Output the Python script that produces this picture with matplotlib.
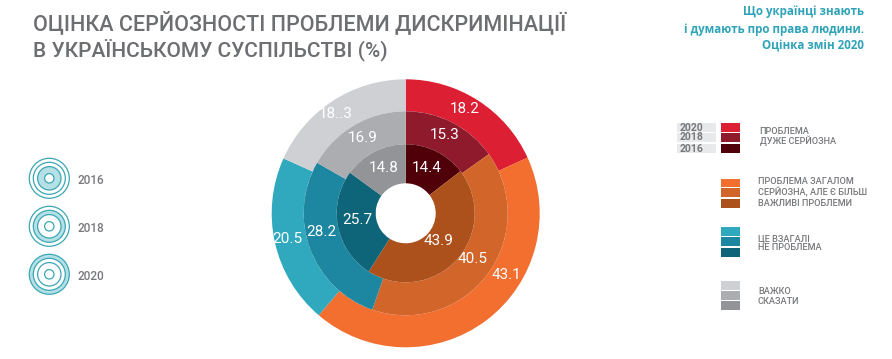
import matplotlib
matplotlib.use("Agg"); import matplotlib.pyplot as plt
from matplotlib.patches import Circle, Rectangle

W,H=892,359
categories=["ПРОБЛЕМА\nДУЖЕ СЕРЙОЗНА","ПРОБЛЕМА ЗАГАЛОМ\nСЕРЙОЗНА, АЛЕ Є БІЛЬШ\nВАЖЛИВІ ПРОБЛЕМИ","ЦЕ ВЗАГАЛІ\nНЕ ПРОБЛЕМА","ВАЖКО\nСКАЗАТИ"]
years=["2016","2018","2020"]
v2016=[14.4,43.9,25.7,14.8]
v2018=[15.3,40.5,28.2,16.9]
v2020=[18.2,43.1,20.5,18.3]
labels2016=["14.4","43.9","25.7","14.8"]
labels2018=["15.3","40.5","28.2","16.9"]
labels2020=["18.2","43.1","20.5","18..3"]

c2016=['#4f0008','#ac501c','#0e6479','#939497']
c2018=['#8f1a2b','#d2652a','#1d86a0','#acadb1']
c2020=['#dc1f33','#f26f30','#30a9be','#cfd0d4']
grey='#77787b'; teal='#2fa4b8'

fig=plt.figure(figsize=(W/100,H/100),dpi=100)
ax=fig.add_axes([0,0,1,1])
Y=lambda y:H-y   # positions below are read in image pixels, y down
cx,cy=405.7,Y(213.3)

# rings, outer to inner
for vals,cols,rad,wd in [(v2020,c2020,134,32),(v2018,c2018,102,33),(v2016,c2016,69,39)]:
    ax.pie(vals,colors=cols,radius=rad,center=(cx,cy),startangle=90,counterclock=False,
           wedgeprops=dict(width=wd,linewidth=0))
ax.set_xlim(0,W); ax.set_ylim(0,H); ax.set_aspect('equal'); ax.axis('off')

pos2016=[(427,168),(439,241),(357,220),(384,168)]
pos2018=[(445,135),(473,259),(321,232),(363,138)]
pos2020=[(465,109),(506,275),(287,239),(336,114)]
for labs,ps in [(labels2016,pos2016),(labels2018,pos2018),(labels2020,pos2020)]:
    for s,(x,y) in zip(labs,ps):
        ax.text(x,Y(y),s,color='white',fontsize=11,ha='center',va='center',family='Roboto')

# titles
ax.text(33,Y(30),"ОЦІНКА СЕРЙОЗНОСТІ ПРОБЛЕМИ ДИСКРИМІНАЦІЇ",color='#6d6e71',fontsize=15.5,family='Roboto',fontweight='medium')
ax.text(33,Y(57),"В УКРАЇНСЬКОМУ СУСПІЛЬСТВІ (%)",color='#6d6e71',fontsize=15,family='Roboto',fontweight='medium')
for s,y in zip(["Що українці знають","і думають про права людини.","Оцінка змін 2020"],[12,29,46]):
    ax.text(864,Y(y),s,color=teal,fontsize=8.3,fontweight='bold',ha='right',va='center',family='Open Sans')

# ring icons on the left
icon_y=[178.3,226.3,274.3]
radii=[20,16,11.7,4.7]
for i,(yr,y) in enumerate(zip(years,icon_y)):
    fill=2-i
    for j,r in enumerate(radii):
        ax.add_patch(Circle((49.3,Y(y)),r,fc='#b5e0e6' if j==fill else 'white',ec='#3ba7b5',lw=0.9))
    ax.text(78,Y(y+2),yr,color=grey,fontsize=8.5,fontweight='medium',va='center',family='Roboto')

# legend swatches
swatch_y=[(123.3,132,133,142,144,153),(179,187.3,188.3,197,199,208),(227,235.7,237,246,248,257),(281.3,290,291,300,301,310)]
swatch_cols=list(zip(c2020,c2018,c2016))
for sy,cols in zip(swatch_y,swatch_cols):
    for k,c in enumerate(cols):
        y0,y1=sy[2*k],sy[2*k+1]
        ax.add_patch(Rectangle((721,Y(y1)),19.3,y1-y0,fc=c,ec='none'))
for k,yr in enumerate(reversed(years)):
    y0,y1=swatch_y[0][2*k],swatch_y[0][2*k+1]
    ax.add_patch(Rectangle((677,Y(y1)),39,y1-y0,fc='#e8e9ea',ec='none'))
    ax.text(680,Y((y0+y1)/2),yr,color=grey,fontsize=7.5,fontweight='bold',va='center',family='Roboto')

legend_pos=[(759.5,[132,141]),(758,[182,192.5,204]),(758,[239,248]),(758,[291,301])]
for cat,(x,ys) in zip(categories,legend_pos):
    for s,y in zip(cat.split("\n"),ys):
        ax.text(x,Y(y),s,color=grey,fontsize=6.6,fontweight='medium',va='center',family='Roboto')

fig.savefig("out.png",dpi=100)
